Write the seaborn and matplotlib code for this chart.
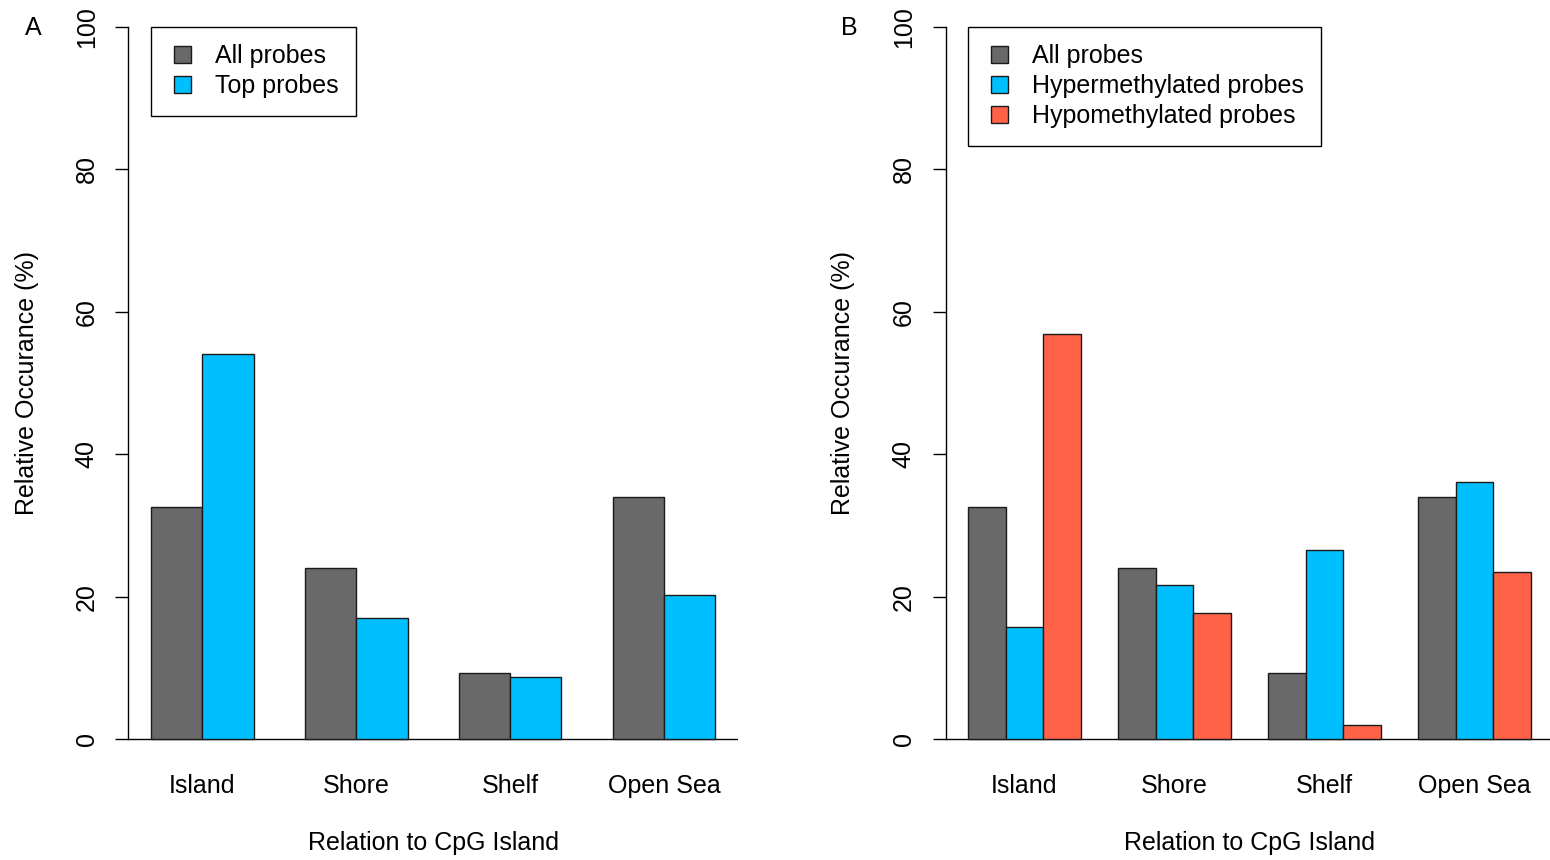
import numpy as np
import pandas as pd
import matplotlib
matplotlib.use("Agg")
import matplotlib.pyplot as plt
from matplotlib.patches import Patch, Rectangle
from matplotlib.legend_handler import HandlerPatch
import seaborn as sns

# --- data -------------------------------------------------------------
regions = ["Island", "Shore", "Shelf", "Open Sea"]

groups_a = ["All probes", "Top probes"]
all_probes = [32.6, 24.0, 9.3, 34.0]
top_probes = [54.1, 17.0, 8.7, 20.2]

groups_b = ["All probes", "Hypermethylated probes", "Hypomethylated probes"]
hyper_probes = [15.7, 21.7, 26.5, 36.1]
hypo_probes = [56.9, 17.7, 1.9, 23.5]

yticks = [0, 20, 40, 60, 80, 100]

colors = {"All probes": "#696969",
          "Top probes": "#00BFFF",
          "Hypermethylated probes": "#00BFFF",
          "Hypomethylated probes": "#FF6347"}


def long_frame(groups, series):
    rows = []
    for g, vals in zip(groups, series):
        for r, v in zip(regions, vals):
            rows.append({"region": r, "group": g, "value": v})
    return pd.DataFrame(rows)


df_a = long_frame(groups_a, [all_probes, top_probes])
df_b = long_frame(groups_b, [all_probes, hyper_probes, hypo_probes])

# --- style ------------------------------------------------------------
sns.set_theme(style="white")
plt.rcParams["font.family"] = ["Liberation Sans", "DejaVu Sans"]
plt.rcParams["text.color"] = "black"
plt.rcParams["axes.labelcolor"] = "black"
plt.rcParams["xtick.color"] = "black"
plt.rcParams["ytick.color"] = "black"
FS = 18

fig = plt.figure(figsize=(15.5, 8.6), dpi=100)
W, H = 1550.0, 860.0


def square_right(legend, orig_handle, xdescent, ydescent, width, height,
                 fontsize):
    """Square legend key pushed to the right end of its handle box."""
    side = height
    return Rectangle((width - side - xdescent, -ydescent), side, side)


def make_panel(left_px, width_px, df, groups, width, xlim, letter, letter_x):
    bottom = 1 - 767.5 / H
    height = 769.0 / H
    ax = fig.add_axes([left_px / W, bottom, width_px / W, height])
    sns.barplot(data=df, x="region", y="value", hue="group",
                order=regions, hue_order=groups,
                palette=[colors[g] for g in groups], saturation=1,
                width=width, edgecolor="#1a1a1a", linewidth=1.0,
                errorbar=None, legend=False, ax=ax)
    ax.set_xlim(*xlim)
    ax.set_ylim(-4, 104)
    for s in ["top", "right", "bottom"]:
        ax.spines[s].set_visible(False)
    ax.spines["left"].set_bounds(0, 100)
    ax.spines["left"].set_color("black")
    ax.spines["left"].set_linewidth(1.0)
    ax.axhline(0, color="black", lw=1.0, zorder=0.5)

    ax.set_yticks(yticks)
    ax.set_yticklabels([str(t) for t in yticks], rotation=90, va="center",
                       fontsize=FS)
    ax.tick_params(axis="y", direction="out", length=9.4, width=1.0,
                   pad=12, color="black", left=True)
    ax.tick_params(axis="x", length=0, pad=5, labelsize=FS)

    ax.set_xlabel("Relation to CpG Island", fontsize=FS)
    ax.xaxis.set_label_coords(0.5, -0.082)
    ax.set_ylabel("Relative Occurance (%)", fontsize=FS)
    ax.yaxis.set_label_coords((letter_x[1] - left_px) / width_px, 0.5)
    ax.yaxis.label.set_va("center")

    handles = [Patch(facecolor=colors[g], edgecolor="#1a1a1a", linewidth=1.0)
               for g in groups]
    # legend anchored at the first bar's left edge, top of the value range
    first_left = -width / 2
    leg = ax.legend(handles, groups, loc="upper left",
                    bbox_to_anchor=(first_left, 100),
                    bbox_transform=ax.transData, borderaxespad=0,
                    fontsize=FS, frameon=True, fancybox=False,
                    edgecolor="black", framealpha=1,
                    handler_map={Patch: HandlerPatch(patch_func=square_right)},
                    handlelength=0.9, handleheight=0.65,
                    handletextpad=0.96, labelspacing=0.24, borderpad=0.7)
    leg.get_frame().set_linewidth(1.0)

    fig.text(letter_x[0] / W, 1 - 28 / H, letter, fontsize=FS,
             ha="center", va="center")
    return ax


make_panel(128.4, 609.6, df_a, groups_a, 2 / 3, (-0.48, 3.48), "A", (33, 27))
make_panel(945.5, 608.0, df_b, groups_b, 0.75, (-0.525, 3.525), "B", (849, 843))

fig.savefig("out.png", dpi=100)
